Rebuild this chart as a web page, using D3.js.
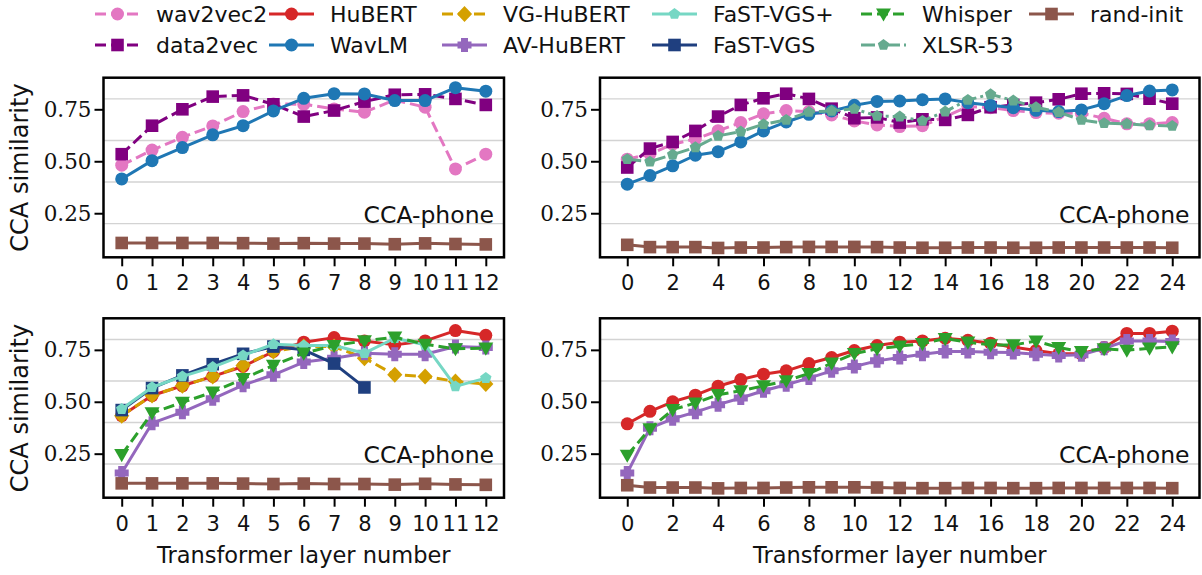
<!DOCTYPE html>
<html>
<head>
<meta charset="utf-8">
<script src="https://cdn.jsdelivr.net/npm/d3@7"></script>
<style>
  body { margin: 0; background: #fff; }
  svg { display: block; }
</style>
</head>
<body>
<svg id="chart" width="1202" height="575"></svg>
<script>
// ---- layer indices ----
const layers12 = [0, 1, 2, 3, 4, 5, 6, 7, 8, 9, 10, 11, 12];
const layers24 = [0, 1, 2, 3, 4, 5, 6, 7, 8, 9, 10, 11, 12, 13, 14, 15, 16, 17, 18, 19, 20, 21, 22, 23, 24];

// ---- base models (12 layers) ----
const wav2vec2Base = [0.481, 0.554, 0.615, 0.670, 0.739, 0.776, 0.774, 0.752, 0.736, 0.795, 0.760, 0.463, 0.534];
const data2vecBase = [0.534, 0.671, 0.750, 0.811, 0.817, 0.774, 0.715, 0.744, 0.787, 0.820, 0.822, 0.800, 0.771];
const wavlmBase    = [0.415, 0.503, 0.566, 0.627, 0.671, 0.742, 0.803, 0.825, 0.824, 0.792, 0.792, 0.854, 0.837];
const hubertBase   = [0.433, 0.530, 0.577, 0.622, 0.670, 0.742, 0.787, 0.809, 0.793, 0.774, 0.793, 0.843, 0.820];
const vgHubert     = [0.433, 0.530, 0.577, 0.622, 0.675, 0.742, 0.766, 0.766, 0.710, 0.630, 0.622, 0.598, 0.585];
const avHubertBase = [0.157, 0.397, 0.450, 0.514, 0.580, 0.630, 0.691, 0.710, 0.734, 0.729, 0.729, 0.766, 0.761];
const fastVgsPlus  = [0.465, 0.570, 0.622, 0.667, 0.723, 0.777, 0.771, 0.771, 0.734, 0.806, 0.774, 0.574, 0.614];
const fastVgs      = [0.460, 0.566, 0.627, 0.681, 0.731, 0.766, 0.750, 0.684, 0.569];
const whisperBase  = [0.245, 0.446, 0.497, 0.546, 0.611, 0.675, 0.734, 0.771, 0.793, 0.811, 0.777, 0.755, 0.758];
const randInitBase = [0.107, 0.107, 0.107, 0.107, 0.106, 0.104, 0.106, 0.104, 0.104, 0.101, 0.105, 0.102, 0.100];

// ---- large models (24 layers) ----
const wav2vec2Large = [0.510, 0.535, 0.582, 0.607, 0.647, 0.686, 0.728, 0.744, 0.739, 0.723, 0.694, 0.675, 0.667,
                       0.671, 0.715, 0.763, 0.758, 0.744, 0.734, 0.731, 0.731, 0.707, 0.680, 0.680, 0.686];
const data2vecLarge = [0.470, 0.561, 0.593, 0.646, 0.715, 0.771, 0.803, 0.825, 0.800, 0.753, 0.707, 0.711, 0.686,
                       0.702, 0.699, 0.723, 0.760, 0.771, 0.782, 0.798, 0.825, 0.827, 0.824, 0.801, 0.777];
const wavlmLarge    = [0.390, 0.431, 0.478, 0.529, 0.546, 0.593, 0.646, 0.689, 0.726, 0.742, 0.769, 0.788, 0.790,
                       0.796, 0.800, 0.782, 0.769, 0.758, 0.745, 0.739, 0.747, 0.777, 0.816, 0.838, 0.843];
const xlsr53        = [0.510, 0.498, 0.532, 0.567, 0.622, 0.643, 0.678, 0.699, 0.737, 0.742, 0.752, 0.718, 0.715,
                       0.694, 0.739, 0.795, 0.822, 0.792, 0.760, 0.736, 0.699, 0.683, 0.680, 0.673, 0.670];
const hubertLarge   = [0.394, 0.454, 0.500, 0.532, 0.575, 0.607, 0.633, 0.649, 0.684, 0.713, 0.747, 0.771, 0.787,
                       0.793, 0.806, 0.796, 0.782, 0.763, 0.747, 0.731, 0.731, 0.761, 0.829, 0.829, 0.840];
const whisperLarge  = [0.242, 0.370, 0.462, 0.494, 0.534, 0.553, 0.577, 0.601, 0.636, 0.686, 0.732, 0.755, 0.768,
                       0.780, 0.804, 0.787, 0.774, 0.774, 0.792, 0.761, 0.742, 0.755, 0.748, 0.758, 0.764];
const avHubertLarge = [0.157, 0.373, 0.418, 0.450, 0.486, 0.518, 0.553, 0.582, 0.614, 0.649, 0.670, 0.697, 0.713,
                       0.729, 0.742, 0.742, 0.739, 0.737, 0.729, 0.723, 0.726, 0.758, 0.793, 0.793, 0.790];
const randInitLarge = [0.098, 0.087, 0.087, 0.087, 0.083, 0.085, 0.085, 0.087, 0.088, 0.088, 0.088, 0.087, 0.085,
                       0.084, 0.084, 0.085, 0.085, 0.084, 0.084, 0.085, 0.085, 0.085, 0.085, 0.085, 0.084];

// ---- axis ticks ----
const yTickValues = [0.25, 0.50, 0.75];
const yGridValues = [0.2, 0.4, 0.6, 0.8];
const xTicks12 = [0, 1, 2, 3, 4, 5, 6, 7, 8, 9, 10, 11, 12];
const xTicks24 = [0, 2, 4, 6, 8, 10, 12, 14, 16, 18, 20, 22, 24];
const panelLabel = "CCA-phone";
const yAxisTitle = "CCA similarity";
const xAxisTitle = "Transformer layer number";

// ---- legend order ----
const legendNames = ["wav2vec2", "data2vec", "HuBERT", "WavLM", "VG-HuBERT", "AV-HuBERT",
                     "FaST-VGS+", "FaST-VGS", "Whisper", "XLSR-53", "rand-init"];

// ---- series look ----
const styles = {
  "wav2vec2":  { color: "#e377c2", dash: "11,5",       marker: "circle",   size: 6.5 },
  "data2vec":  { color: "#800080", dash: "11,5",       marker: "square",   size: 6.3 },
  "HuBERT":    { color: "#d62728", dash: null,         marker: "circle",   size: 6.5 },
  "WavLM":     { color: "#1f77b4", dash: null,         marker: "circle",   size: 6.5 },
  "VG-HuBERT": { color: "#d4a000", dash: "11,5",       marker: "diamond",  size: 8 },
  "AV-HuBERT": { color: "#9467bd", dash: null,         marker: "plus",     size: 7 },
  "FaST-VGS+": { color: "#76d7c4", dash: null,         marker: "pentagon", size: 6 },
  "FaST-VGS":  { color: "#1f3f7f", dash: null,         marker: "square",   size: 6.3 },
  "Whisper":   { color: "#2ca02c", dash: "11,5",       marker: "tridown",  size: 7.5 },
  "XLSR-53":   { color: "#66aa8f", dash: "14,4,3,4",   marker: "pentagon", size: 6 },
  "rand-init": { color: "#8c564b", dash: null,         marker: "square",   size: 6.3 }
};

// ---- panels ----
const panels = [
  { x0: 103.5, y0: 77.7, w: 400.5, h: 179.6, xs: layers12, xTicks: xTicks12, xDomain: [-0.6, 12.6], showY: true, showX: false,
    series: [["wav2vec2", wav2vec2Base], ["data2vec", data2vecBase], ["WavLM", wavlmBase], ["rand-init", randInitBase]] },
  { x0: 600, y0: 77.7, w: 599.5, h: 179.6, xs: layers24, xTicks: xTicks24, xDomain: [-1.2, 25.2], showY: false, showX: false,
    series: [["wav2vec2", wav2vec2Large], ["data2vec", data2vecLarge], ["WavLM", wavlmLarge], ["XLSR-53", xlsr53], ["rand-init", randInitLarge]] },
  { x0: 103.5, y0: 318.3, w: 400.5, h: 179.4, xs: layers12, xTicks: xTicks12, xDomain: [-0.6, 12.6], showY: true, showX: true,
    series: [["HuBERT", hubertBase], ["VG-HuBERT", vgHubert], ["AV-HuBERT", avHubertBase], ["FaST-VGS", fastVgs],
             ["FaST-VGS+", fastVgsPlus], ["Whisper", whisperBase], ["rand-init", randInitBase]] },
  { x0: 600, y0: 318.3, w: 599.5, h: 179.4, xs: layers24, xTicks: xTicks24, xDomain: [-1.2, 25.2], showY: false, showX: true,
    series: [["HuBERT", hubertLarge], ["AV-HuBERT", avHubertLarge], ["Whisper", whisperLarge], ["rand-init", randInitLarge]] }
];

const yDomain = [0.038, 0.902];
const sansFont = "DejaVu Sans, sans-serif";
const serifFont = "DejaVu Serif, serif";

const svg = d3.select("#chart");

// marker shape path centred at origin, r ~ half-size in px
function markerPath(type, r) {
  const p = d3.path();
  if (type === "circle") {
    p.arc(0, 0, r, 0, 2 * Math.PI);
  } else if (type === "square") {
    p.rect(-r, -r, 2 * r, 2 * r);
  } else if (type === "diamond") {
    p.moveTo(0, -r); p.lineTo(r * 0.95, 0); p.lineTo(0, r); p.lineTo(-r * 0.95, 0); p.closePath();
  } else if (type === "tridown") {
    p.moveTo(-r, -r * 0.75); p.lineTo(r, -r * 0.75); p.lineTo(0, r); p.closePath();
  } else if (type === "pentagon") {
    for (let i = 0; i < 5; i++) {
      const a = -Math.PI / 2 + i * 2 * Math.PI / 5;
      const px = r * Math.cos(a), py = r * Math.sin(a);
      if (i === 0) p.moveTo(px, py); else p.lineTo(px, py);
    }
    p.closePath();
  } else if (type === "plus") {
    const t = r * 0.5;
    p.moveTo(-t, -r); p.lineTo(t, -r); p.lineTo(t, -t); p.lineTo(r, -t); p.lineTo(r, t);
    p.lineTo(t, t); p.lineTo(t, r); p.lineTo(-t, r); p.lineTo(-t, t); p.lineTo(-r, t);
    p.lineTo(-r, -t); p.lineTo(-t, -t); p.closePath();
  }
  return p.toString();
}

panels.forEach(pn => {
  const g = svg.append("g").attr("transform", `translate(${pn.x0},${pn.y0})`);
  const x = d3.scaleLinear().domain(pn.xDomain).range([0, pn.w]);
  const y = d3.scaleLinear().domain(yDomain).range([pn.h, 0]);

  // horizontal grid
  g.append("g").selectAll("line").data(yGridValues).join("line")
    .attr("x1", 0).attr("x2", pn.w)
    .attr("y1", d => y(d)).attr("y2", d => y(d))
    .attr("stroke", "#d3d3d3").attr("stroke-width", 1.4);

  // x axis
  const xAxis = g.append("g").attr("transform", `translate(0,${pn.h})`)
    .call(d3.axisBottom(x).tickValues(pn.xTicks).tickSize(9).tickPadding(9).tickFormat(d3.format("d")));
  xAxis.select(".domain").remove();
  xAxis.selectAll(".tick line").attr("stroke", "#000").attr("stroke-width", 2);
  xAxis.selectAll(".tick text").attr("font-family", sansFont).attr("font-size", 21).attr("fill", "#111");

  // y axis
  const yAxis = g.append("g")
    .call(d3.axisLeft(y).tickValues(yTickValues).tickSize(9).tickPadding(3).tickFormat(d3.format(".2f")));
  yAxis.select(".domain").remove();
  yAxis.selectAll(".tick line").attr("stroke", "#000").attr("stroke-width", 2);
  yAxis.selectAll(".tick text").attr("font-family", serifFont).attr("font-size", 21.5).attr("fill", "#111");

  // series
  const plot = g.append("g");
  pn.series.forEach(([name, vals]) => {
    const st = styles[name];
    const pts = vals.map((v, i) => [pn.xs[i], v]);
    plot.append("path")
      .attr("d", d3.line().x(d => x(d[0])).y(d => y(d[1]))(pts))
      .attr("fill", "none").attr("stroke", st.color).attr("stroke-width", 3)
      .attr("stroke-dasharray", st.dash).attr("stroke-linejoin", "round");
    plot.append("g").selectAll("path").data(pts).join("path")
      .attr("d", markerPath(st.marker, st.size))
      .attr("transform", d => `translate(${x(d[0])},${y(d[1])})`)
      .attr("fill", st.color);
  });

  // frame
  g.append("rect").attr("width", pn.w).attr("height", pn.h)
    .attr("fill", "none").attr("stroke", "#000").attr("stroke-width", 2.5);

  // panel tag
  g.append("text").attr("x", pn.w - 10).attr("y", 145)
    .attr("text-anchor", "end").attr("font-family", sansFont).attr("font-size", 23.5)
    .attr("fill", "#111").text(panelLabel);

  if (pn.showY) {
    g.append("text")
      .attr("transform", `translate(${-76},${pn.h / 2}) rotate(-90)`)
      .attr("text-anchor", "middle").attr("font-family", sansFont).attr("font-size", 24)
      .attr("fill", "#111").text(yAxisTitle);
  }
  if (pn.showX) {
    g.append("text").attr("x", pn.w / 2).attr("y", pn.h + 65)
      .attr("text-anchor", "middle").attr("font-family", sansFont).attr("font-size", 22.5)
      .attr("fill", "#111").text(xAxisTitle);
  }
});

// ---- legend ----
const legendCols = [95, 269, 442, 652, 861, 1029];
const legendRows = [14, 45];
const legend = svg.append("g");
legendNames.forEach((name, i) => {
  const st = styles[name];
  const cx = legendCols[Math.floor(i / 2)];
  const cy = legendRows[i % 2];
  const item = legend.append("g").attr("transform", `translate(${cx},${cy})`);
  item.append("line").attr("x1", 0).attr("x2", 45).attr("y1", 0).attr("y2", 0)
    .attr("stroke", st.color).attr("stroke-width", 3).attr("stroke-dasharray", st.dash);
  item.append("path").attr("d", markerPath(st.marker, st.size))
    .attr("transform", "translate(22.5,0)").attr("fill", st.color);
  item.append("text").attr("x", 61).attr("y", 0).attr("dy", "0.35em")
    .attr("font-family", sansFont).attr("font-size", 22).attr("fill", "#111").text(name);
});
</script>
</body>
</html>
